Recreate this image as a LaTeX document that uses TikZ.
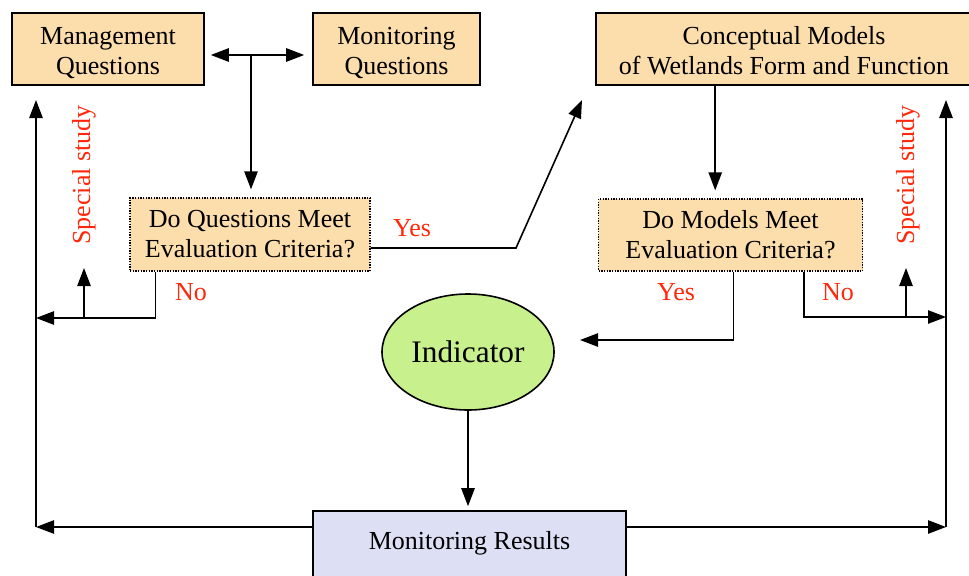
\documentclass[tikz,border=0pt]{standalone}
\usepackage{fontspec}
\setmainfont{Liberation Serif}
\usetikzlibrary{arrows.meta,shapes.geometric}
\definecolor{boxfill}{RGB}{252,221,172}
\definecolor{resfill}{RGB}{221,224,244}
\definecolor{indfill}{RGB}{200,240,140}
\definecolor{lblred}{RGB}{255,40,10}
\newcommand{\topstrut}[1][19pt]{\rule{0pt}{#1}}

\begin{document}
\begin{tikzpicture}[x=0.75pt,y=0.75pt,yscale=-1,xscale=1,
  >={Triangle[length=13.5pt,width=10pt]},
  qbox/.style={draw,line width=1.2pt,fill=boxfill,align=center,inner sep=0pt,font=\fontsize{19.5}{22.5}\selectfont},
  evalbox/.style={qbox,line width=1pt,dash pattern=on 1pt off 1pt},
  lbl/.style={text=lblred,font=\fontsize{19.5}{22.5}\selectfont},
  link/.style={line width=1.2pt}]
%set diagram size: 969 x 575
\useasboundingbox (0,0) rectangle (969,575);
\clip (0,0) rectangle (969,575);

%Shape: Rectangle [top row]
\node[qbox,minimum width=144pt,minimum height=54pt] (mgmt) at (108,49) {\topstrut Management\\Questions};
\node[qbox,minimum width=125.25pt,minimum height=54pt] (monq) at (396.5,49) {\topstrut Monitoring\\Questions};
\node[qbox,minimum width=282pt,minimum height=54pt] (concept) at (784,49) {\topstrut[16.5pt]Conceptual Models\\of Wetlands Form and Function};

%Shape: Rectangle [criteria]
\node[evalbox,minimum width=180pt,minimum height=54.75pt] (doq) at (250,234.5) {Do Questions Meet\\Evaluation Criteria?};
\node[evalbox,minimum width=198pt,minimum height=54pt] (dom) at (730.5,235) {Do Models Meet\\Evaluation Criteria?};

%Shape: Ellipse
\node[ellipse,draw,line width=1.2pt,fill=indfill,minimum width=129pt,minimum height=87pt,inner sep=0pt,font=\fontsize{23.5}{28}\selectfont] (ind) at (468,352) {Indicator};

%Shape: Rectangle [results]
\node[qbox,fill=resfill,minimum width=234.75pt,minimum height=52.5pt,text depth=8pt] (res) at (469.5,546) {Monitoring Results};

% free ends
\coordinate (tee) at (251,55);
\coordinate (bend) at (516,248);
\coordinate (yestip) at (582,100);
\coordinate (yesin) at (580,340);
\coordinate (ltop) at (36,100);
\coordinate (lbot) at (36,527);
\coordinate (lno) at (36,318);
\coordinate (lsp) at (84,318);
\coordinate (rtop) at (946,100);
\coordinate (rbot) at (946,527);
\coordinate (rno) at (946,317);
\coordinate (rsp) at (906,317);

%Straight Lines
\draw[link,<->,shorten <=4.5pt,shorten >=6pt] (mgmt.east |- tee) -- (monq.west |- tee);
\draw[link,->,shorten >=6pt] (tee) -- (tee |- doq.north);
\draw[link,->] (doq.east |- bend) -- (bend) -- (yestip);
\draw[link,->,shorten >=6pt] ([xshift=90pt]concept.south west) -- ([xshift=90pt]concept.south west |- dom.north);
\draw[link,->] ([xshift=2.25pt]dom.south) |- (yesin);
\draw[link,->] ([xshift=-44.25pt]dom.south east) |- (rno);
\draw[link,->] (rsp) -- ++(0,-49);
\draw[link,->] ([xshift=19.5pt]doq.south west) |- (lno);
\draw[link,->] (lsp) -- ++(0,-50);
\draw[link,->] (lbot) -- (ltop);
\draw[link,->] (rbot) -- (rtop);
\draw[link,->] (res.west |- lbot) -- (lbot);
\draw[link,->] (res.east |- rbot) -- (rbot);
\draw[link,->,shorten >=3pt] (ind.south) -- (ind.south |- res.north);

% Text Node
\node[lbl] (yesq) at (412,228) {Yes};
% Text Node
\node[lbl] (noq) at (191,292) {No};
% Text Node
\node[lbl] (yesm) at (676,292) {Yes};
% Text Node
\node[lbl] (nom) at (838,292) {No};
% Text Node
\node[lbl,rotate=90] (spl) at (84,175) {Special study};
% Text Node
\node[lbl,rotate=90] (spr) at (908,175) {Special study};

\end{tikzpicture}
\end{document}
